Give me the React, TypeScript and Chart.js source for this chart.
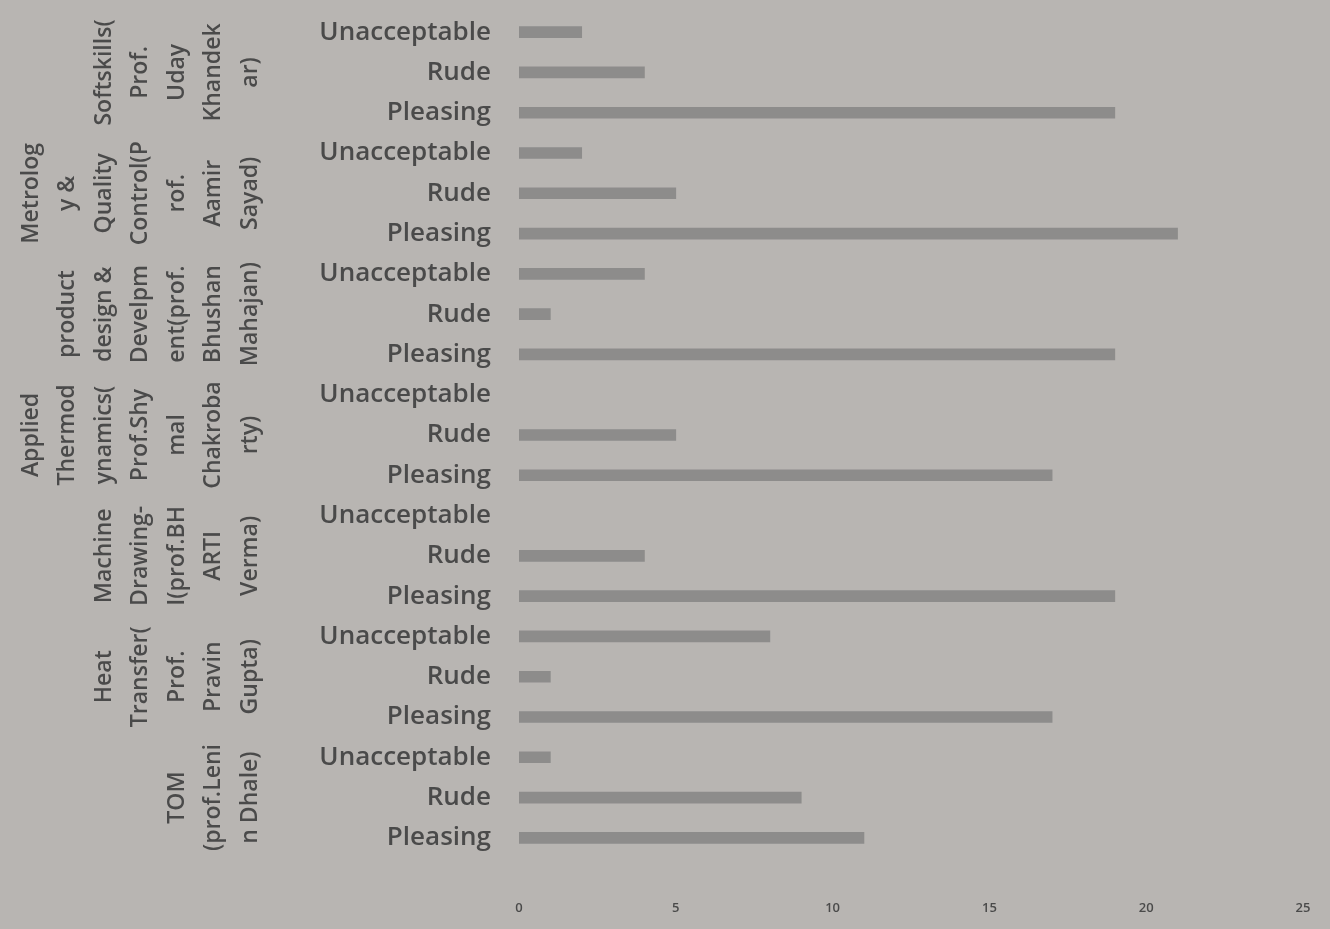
import React, { useEffect, useRef } from "react";
import { Chart, registerables } from "chart.js";

Chart.register(...registerables);

// Groups in data order (bottom to top as in the reference)
const groupLines: string[][] = [
  ["TOM", "(prof.Leni", "n Dhale)"],
  ["Heat", "Transfer(", "Prof.", "Pravin", "Gupta)"],
  ["Machine", "Drawing-", "I(prof.BH", "ARTI", "Verma)"],
  ["Applied", "Thermod", "ynamics(", "Prof.Shy", "mal", "Chakroba", "rty)"],
  ["product", "design &", "Develpm", "ent(prof.", "Bhushan", "Mahajan)"],
  ["Metrolog", "y &", "Quality", "Control(P", "rof.", "Aamir", "Sayad)"],
  ["Softskills(", "Prof.", "Uday", "Khandek", "ar)"],
];

const subCategories = ["Pleasing", "Rude", "Unacceptable"];

const pleasing = [11, 17, 19, 17, 19, 21, 19];
const rude = [9, 1, 4, 5, 1, 5, 4];
const unacceptable = [1, 8, 0, 0, 4, 2, 2];

const xTicks = [0, 5, 10, 15, 20, 25];

const BG = "#b8b5b2";
const TEXT = "#4a4a4a";
const BAR = "#8d8c8b";

export default function App() {
  const ref = useRef<HTMLCanvasElement | null>(null);

  useEffect(() => {
    if (!ref.current) return;
    document.body.style.margin = "0";

    const labels: string[] = [];
    const values: (number | null)[] = [];
    groupLines.forEach((_, g) => {
      labels.push(subCategories[0], subCategories[1], subCategories[2]);
      [pleasing[g], rude[g], unacceptable[g]].forEach((v) =>
        values.push(v === 0 ? null : v)
      );
    });

    const groupPlugin = {
      id: "groupLabels",
      afterDraw(chart: any) {
        const ctx = chart.ctx;
        const y = chart.scales.y;
        ctx.save();
        ctx.font = "600 23px 'Open Sans'";
        ctx.fillStyle = TEXT;
        ctx.textAlign = "center";
        ctx.textBaseline = "middle";
        const lastX = y.left + 250;
        const gap = 36.5;
        groupLines.forEach((lines, g) => {
          const yc = (y.getPixelForValue(g * 3) + y.getPixelForValue(g * 3 + 2)) / 2;
          const n = lines.length;
          lines.forEach((line, i) => {
            const x = lastX - (n - 1 - i) * gap;
            ctx.save();
            ctx.translate(x, yc);
            ctx.rotate(-Math.PI / 2);
            ctx.fillText(line, 0, 0);
            ctx.restore();
          });
        });
        ctx.restore();
      },
    };

    const chart = new Chart(ref.current, {
      type: "bar",
      data: {
        labels,
        datasets: [
          {
            data: values,
            backgroundColor: BAR,
            barThickness: 11,
            borderWidth: 0,
          },
        ],
      },
      options: {
        indexAxis: "y",
        animation: false,
        responsive: true,
        maintainAspectRatio: false,
        layout: { padding: { top: 12, right: 27, left: 0, bottom: 0 } },
        plugins: {
          legend: { display: false },
          tooltip: { enabled: false },
        },
        scales: {
          y: {
            type: "category",
            reverse: true,
            grid: { display: false, drawTicks: false },
            border: { display: false },
            ticks: {
              color: TEXT,
              font: { family: "'Open Sans'", size: 26, weight: "600" },
              padding: 28,
              autoSkip: false,
            },
            afterFit(scale: any) {
              scale.width = 519;
              scale.paddingTop = 0;
              scale.paddingBottom = 0;
              scale.paddingLeft = 0;
              scale.paddingRight = 0;
            },
          },
          x: {
            min: 0,
            max: 25,
            afterBuildTicks(scale: any) {
              scale.ticks = xTicks.map((v) => ({ value: v }));
            },
            grid: { display: false, drawTicks: false },
            border: { display: false },
            ticks: {
              color: TEXT,
              font: { family: "'Open Sans'", size: 13, weight: "600" },
              padding: 42,
              maxRotation: 0,
            },
            afterFit(scale: any) {
              scale.height = 71;
              scale.paddingTop = 0;
              scale.paddingBottom = 0;
              scale.paddingLeft = 0;
              scale.paddingRight = 0;
            },
          },
        },
      },
      plugins: [groupPlugin],
    });

    return () => chart.destroy();
  }, []);

  return (
    <div
      style={{
        position: "fixed",
        left: 0,
        top: 0,
        width: 1330,
        height: 929,
        background: BG,
      }}
    >
      <canvas ref={ref} />
    </div>
  );
}
